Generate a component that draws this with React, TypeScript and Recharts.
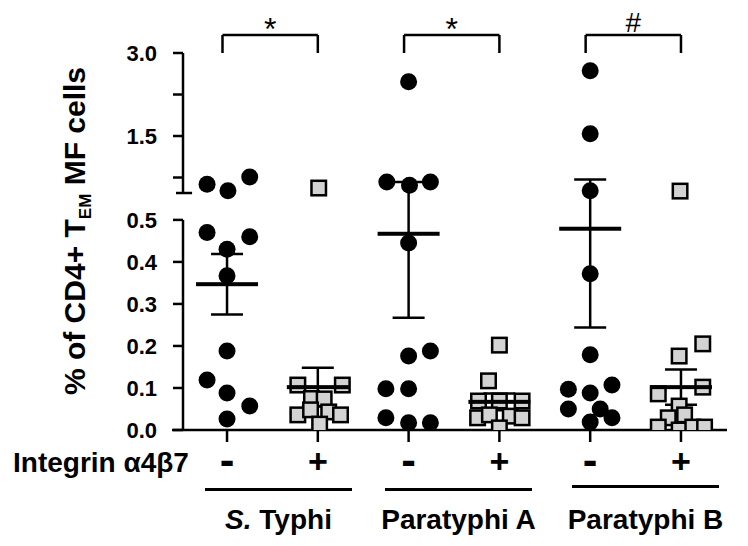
import React from 'react';
import { ScatterChart, Scatter, XAxis, YAxis, ErrorBar, ReferenceLine } from 'recharts';

const FONT = '"Liberation Sans", Arial, Helvetica, sans-serif';

const groupNames = ['S. Typhi', 'Paratyphi A', 'Paratyphi B'];
const integrinSigns = ['-', '+', '-', '+', '-', '+'];

// % of CD4+ TEM MF cells, one array per column
const typhiNeg = [0.63, 0.51, 0.76, 0.47, 0.43, 0.46, 0.367, 0.188, 0.119, 0.088, 0.057, 0.026];
const typhiNegSpread = [-0.22, 0.01, 0.25, -0.22, 0, 0.25, 0, 0, -0.22, 0, 0.25, 0];
const typhiPos = [0.56, 0.107, 0.107, 0.075, 0.074, 0.036, 0.048, 0.043, 0.036, 0.014];
const typhiPosSpread = [0.01, -0.22, 0.27, -0.07, 0.07, -0.22, -0.08, 0.12, 0.25, 0.02];
const paraANeg = [2.48, 0.67, 0.61, 0.67, 0.445, 0.176, 0.188, 0.098, 0.098, 0.029, 0.017, 0.017];
const paraANegSpread = [0, -0.24, 0.01, 0.24, 0, 0, 0.24, -0.25, 0, -0.25, 0, 0.24];
const paraAPos = [0.202, 0.117, 0.069, 0.069, 0.069, 0.029, 0.036, 0.033, 0.029, 0.005];
const paraAPosSpread = [0, -0.12, -0.23, 0, 0.25, -0.24, -0.11, 0.12, 0.25, 0];
const paraBNeg = [2.68, 1.54, 0.51, 0.372, 0.179, 0.097, 0.088, 0.107, 0.05, 0.05, 0.029, 0.019];
const paraBNegSpread = [0, 0, 0, 0, 0, -0.24, 0, 0.24, -0.24, 0.11, 0.24, 0];
const paraBPos = [0.505, 0.205, 0.176, 0.102, 0.086, 0.057, 0.036, 0.029, 0.007, 0, 0.007, 0.007];
const paraBPosSpread = [-0.01, 0.24, -0.02, 0.24, -0.25, -0.02, 0.04, -0.14, -0.25, -0.02, 0.13, 0.26];

const columnMeans = [0.347, 0.102, 0.467, 0.067, 0.479, 0.102];
const columnSem = [0.072, 0.046, 0.2, 0.02, 0.235, 0.042];

const yTickValues = [0, 0.1, 0.2, 0.3, 0.4, 0.5, 0.75, 1.5, 2.25, 3.0];
const yTickLabels = ['0.0', '0.1', '0.2', '0.3', '0.4', '0.5', '', '1.5', '', '3.0'];
const significance = ['*', '*', '#'];

// broken y axis: 0-0.5 at full scale, 0.47-3.0 squeezed above a small gap
const BREAK_AT = 0.5;
const GAP = 0.064;
const UPPER_FROM = 0.47;
const UPPER_SCALE = 0.1317;
const upperPos = (v: number) => BREAK_AT + GAP + (v - UPPER_FROM) * UPPER_SCALE;
const yPos = (v: number) => (v <= BREAK_AT ? v : upperPos(v));
const Y_TOP = upperPos(3.0);
const Y_UPPER_BOTTOM = upperPos(UPPER_FROM);

const X_DOMAIN: [number, number] = [-0.485, 5.507];
const X_LINE_START = -0.606;

const columns = [
  { values: typhiNeg, spread: typhiNegSpread },
  { values: typhiPos, spread: typhiPosSpread },
  { values: paraANeg, spread: paraANegSpread },
  { values: paraAPos, spread: paraAPosSpread },
  { values: paraBNeg, spread: paraBNegSpread },
  { values: paraBPos, spread: paraBPosSpread },
];

const columnData = columns.map((c, i) =>
  c.values.map((v, j) => ({ x: i + c.spread[j], y: yPos(v), value: v }))
);

const meanData = columnMeans.map((m, i) => {
  const y = yPos(m);
  return {
    x: i,
    y,
    err: [y - yPos(m - columnSem[i]), yPos(m + columnSem[i]) - y],
  };
});

const Dot = (p: any) => <circle cx={p.cx} cy={p.cy} r={8.5} fill="#000" />;
const Box = (p: any) => (
  <rect x={p.cx - 7.25} y={p.cy - 7.25} width={14.5} height={14.5} fill="#d3d3d3" stroke="#000" strokeWidth={2.5} />
);
const MeanBar = (p: any) => <rect x={p.cx - 31} y={p.cy - 2} width={62} height={4} fill="#000" />;

const SignTick = (p: any) => {
  const s = integrinSigns[p.payload.value];
  const minus = s === '-';
  return (
    <text
      x={p.x}
      y={p.y + (minus ? 25 : 23)}
      textAnchor="middle"
      fontFamily={FONT}
      fontWeight={700}
      fontSize={minus ? 44 : 34}
      fill="#000"
    >
      {s}
    </text>
  );
};

const line = { stroke: '#000', strokeWidth: 2.5, ifOverflow: 'visible' as const };

export default function App() {
  const bracketTop = Y_TOP + 18 / 420;
  return (
    <div style={{ position: 'absolute', left: 0, top: 0, width: 748, height: 546, background: '#fff', fontFamily: FONT, color: '#000' }}>
      <ScatterChart width={748} height={546} margin={{ top: 53, right: 21, bottom: 0, left: 0 }}>
        <XAxis
          type="number"
          dataKey="x"
          domain={X_DOMAIN}
          allowDataOverflow
          ticks={[0, 1, 2, 3, 4, 5]}
          interval={0}
          axisLine={false}
          tickSize={12}
          tickMargin={8}
          height={116}
          tick={<SignTick />}
          tickLine={{ stroke: '#000', strokeWidth: 2.5 }}
        />
        <YAxis
          type="number"
          dataKey="y"
          domain={[0, Y_TOP]}
          allowDataOverflow
          ticks={yTickValues.map(yPos)}
          interval={0}
          tickFormatter={(_v: number, i: number) => yTickLabels[i]}
          axisLine={false}
          tickSize={10}
          tickMargin={16}
          width={183}
          tick={{ fontSize: 22, fontWeight: 700, fill: '#000', fontFamily: FONT }}
          tickLine={{ stroke: '#000', strokeWidth: 2.5 }}
        />

        {/* axis lines with the break */}
        <ReferenceLine segment={[{ x: X_LINE_START, y: 0 }, { x: X_DOMAIN[1], y: 0 }]} {...line} />
        <ReferenceLine segment={[{ x: X_DOMAIN[0], y: 0 }, { x: X_DOMAIN[0], y: BREAK_AT }]} {...line} />
        <ReferenceLine segment={[{ x: X_DOMAIN[0], y: Y_UPPER_BOTTOM }, { x: X_DOMAIN[0], y: Y_TOP }]} {...line} />
        <ReferenceLine segment={[{ x: X_DOMAIN[0] - 0.077, y: Y_UPPER_BOTTOM }, { x: X_DOMAIN[0] + 0.1, y: Y_UPPER_BOTTOM }]} {...line} />

        {/* significance brackets */}
        {significance.map((s, k) => (
          <ReferenceLine
            key={`b${k}`}
            segment={[{ x: 2 * k - 0.05, y: bracketTop }, { x: 2 * k + 1, y: bracketTop }]}
            {...line}
            label={{ value: s, position: 'top', offset: s === '#' ? 3 : -5, fontSize: s === '#' ? 28 : 32, fill: '#000', fontFamily: FONT }}
          />
        ))}
        {significance.map((s, k) => (
          <ReferenceLine key={`l${k}`} segment={[{ x: 2 * k - 0.05, y: bracketTop }, { x: 2 * k - 0.05, y: Y_TOP }]} {...line} />
        ))}
        {significance.map((s, k) => (
          <ReferenceLine key={`r${k}`} segment={[{ x: 2 * k + 1, y: bracketTop }, { x: 2 * k + 1, y: Y_TOP }]} {...line} />
        ))}

        {columnData.map((d, i) => (
          <Scatter key={i} data={d} shape={i % 2 === 0 ? Dot : Box} isAnimationActive={false} />
        ))}
        <Scatter data={meanData} shape={MeanBar} isAnimationActive={false}>
          <ErrorBar dataKey="err" direction="y" width={16} stroke="#000" strokeWidth={2.5} />
        </Scatter>
      </ScatterChart>

      {/* y label */}
      <div
        style={{
          position: 'absolute',
          left: 75 - 200,
          top: 231 - 18,
          width: 400,
          height: 36,
          lineHeight: '36px',
          textAlign: 'center',
          fontSize: 30,
          fontWeight: 700,
          transform: 'rotate(-90deg)',
          whiteSpace: 'nowrap',
        }}
      >
        % of CD4+ T<sub style={{ fontSize: 17, verticalAlign: -6 }}>EM</sub> MF cells
      </div>

      <div style={{ position: 'absolute', left: 13, top: 463 - 18, lineHeight: '36px', fontSize: 28, fontWeight: 700, whiteSpace: 'nowrap' }}>
        Integrin α4β7
      </div>

      {[[205, 352, 489], [385, 532, 489], [572, 719, 486]].map(([a, b, y], k) => (
        <React.Fragment key={k}>
          <div style={{ position: 'absolute', left: a, top: y - 1, width: b - a, height: 2.5, background: '#000' }} />
          <div
            style={{
              position: 'absolute',
              left: (a + b) / 2 - 120,
              top: 520 - 18,
              width: 240,
              lineHeight: '36px',
              textAlign: 'center',
              fontSize: 28,
              fontWeight: 700,
              whiteSpace: 'nowrap',
            }}
          >
            {k === 0 ? (
              <>
                <i>S.</i> Typhi
              </>
            ) : (
              groupNames[k]
            )}
          </div>
        </React.Fragment>
      ))}
    </div>
  );
}
